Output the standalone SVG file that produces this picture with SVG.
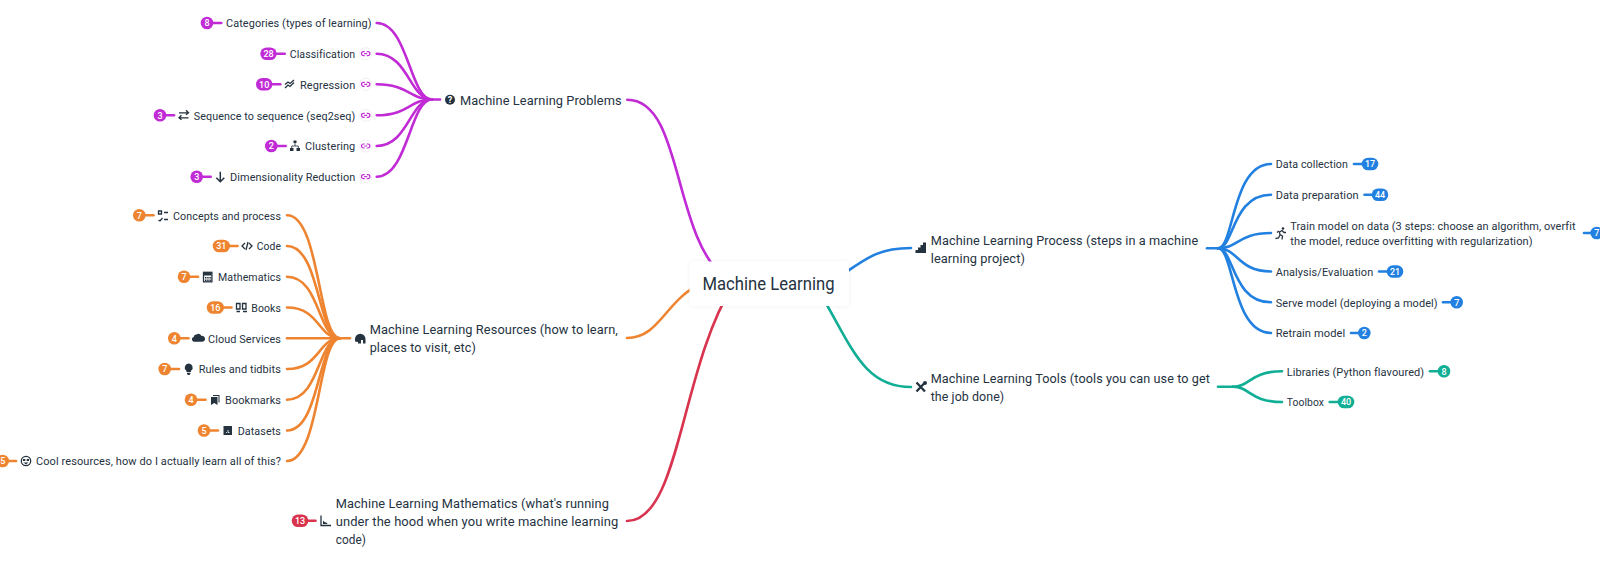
<svg xmlns="http://www.w3.org/2000/svg" width="1600" height="566" viewBox="0 0 1600 566">
<style>
text{font-family:"Roboto","Liberation Sans",sans-serif;fill:#25323f}
.c{font-size:11.6px;letter-spacing:.1px}.m{font-size:13.6px;letter-spacing:.1px}
.r{font-size:18px}
.b{font-size:9px;font-weight:500;fill:#fff;text-anchor:middle}
path.l,line.l{fill:none;stroke-width:2.6;stroke-linecap:round}
.pu{stroke:#c12bd6}.or{stroke:#ee8430}.re{stroke:#d9344f}.bl{stroke:#2280e0}.te{stroke:#0fae95}
.fpu{fill:#c12bd6}.for{fill:#ee8430}.fre{fill:#d9344f}.fbl{fill:#2280e0}.fte{fill:#0fae95}
.i{fill:#25323f}.s{fill:none;stroke:#25323f;stroke-width:1.3}
.lk{fill:#fff;stroke:#f0e8f2;stroke-width:.8}
.ls{fill:none;stroke:#c12bd6;stroke-width:1.2}
</style>
<defs>
<filter id="sh" x="-10%" y="-20%" width="120%" height="140%"><feDropShadow dx="0" dy="0" stdDeviation="2" flood-color="#000" flood-opacity=".06"/></filter>
<g id="link"><circle class="lk" r="6"/><path class="ls" d="M-1 -2H-2.2a2 2 0 0 0 0 4H-1M1 -2H2.2a2 2 0 0 1 0 4H1M-1.5 0H1.500"/></g>
</defs>
<g id="connectors">
<path class="l pu" d="M627.300 99.700C683 99.700 672 235 725 278"/>
<path class="l or" d="M627 338C660 338 665 300 702 283"/>
<path class="l re" d="M627 521C680 521 680 370 733 285"/>
<path class="l bl" d="M830 283C865 260 875 248 911 248"/>
<path class="l te" d="M815 285C850 340 860 387 911 387"/>
<g id="c-problems">
<path class="l pu" d="M440 99.500H428"/>
<path class="l pu" d="M376.700 23C408 23 410 99.500 432 99.500"/>
<path class="l pu" d="M376.700 53.700C408 53.700 410 99.500 432 99.500"/>
<path class="l pu" d="M376.700 84.300C408 84.300 410 99.500 432 99.500"/>
<path class="l pu" d="M376.700 115.300C408 115.300 410 99.500 432 99.500"/>
<path class="l pu" d="M376.700 146C408 146 410 99.500 432 99.500"/>
<path class="l pu" d="M376.700 176.700C408 176.700 410 99.500 432 99.500"/>
</g>
<g id="c-resources">
<path class="l or" d="M350 338.300H335"/>
<path class="l or" d="M287 215.300C320 215.300 318 338.300 340 338.300"/>
<path class="l or" d="M287 246C320 246 318 338.300 340 338.300"/>
<path class="l or" d="M287 276.800C320 276.800 318 338.300 340 338.300"/>
<path class="l or" d="M287 307.500C320 307.500 318 338.300 340 338.300"/>
<path class="l or" d="M287 338.300H340"/>
<path class="l or" d="M287 369C320 369 318 338.300 340 338.300"/>
<path class="l or" d="M287 399.700C320 399.700 318 338.300 340 338.300"/>
<path class="l or" d="M287 430.500C320 430.500 318 338.300 340 338.300"/>
<path class="l or" d="M287 461C320 461 318 338.300 340 338.300"/>
</g>
<g id="c-process">
<path class="l bl" d="M1207 248.300H1220"/>
<path class="l bl" d="M1218 248.300C1234 248.300 1232 164 1271 164"/>
<path class="l bl" d="M1218 248.300C1234 248.300 1232 194.700 1271 194.700"/>
<path class="l bl" d="M1218 248.300C1238 248.300 1238 233 1271 233"/>
<path class="l bl" d="M1218 248.300C1238 248.300 1238 271.500 1271 271.500"/>
<path class="l bl" d="M1218 248.300C1234 248.300 1232 302.300 1271 302.300"/>
<path class="l bl" d="M1218 248.300C1234 248.300 1232 333 1271 333"/>
</g>
<g id="c-tools">
<path class="l te" d="M1218 386.700H1233"/>
<path class="l te" d="M1233 386.700C1250 386.700 1250 371.300 1282 371.300"/>
<path class="l te" d="M1233 386.700C1250 386.700 1250 402 1282 402"/>
</g>
</g>

<g id="root"><rect x="689.500" y="261.500" width="159.500" height="44.500" rx="4" fill="#fff" filter="url(#sh)"/><text class="r" x="702.500" y="289.500" textLength="132" lengthAdjust="spacingAndGlyphs">Machine Learning</text></g>

<g id="n-problems"><circle class="i" cx="450" cy="99.700" r="5"/><text x="450" y="102.900" text-anchor="middle" style="font-size:9px;font-weight:700;fill:#fff">?</text><text class="m" x="460" y="104.700" textLength="161.700" lengthAdjust="spacingAndGlyphs">Machine Learning Problems</text></g>

<g id="n-categories"><circle class="fpu" cx="207" cy="23" r="6.300"/><text class="b" x="207" y="26.200">8</text><line class="l pu" x1="213" y1="23" x2="221.300" y2="23"/><text class="c" x="226" y="27.200" textLength="145.700" lengthAdjust="spacingAndGlyphs">Categories (types of learning)</text></g>
<g id="n-classification"><rect class="fpu" x="260.300" y="47.400" width="16.400" height="12.600" rx="6.300"/><text class="b" x="268.500" y="56.900">28</text><line class="l pu" x1="276.700" y1="53.700" x2="284.700" y2="53.700"/><text class="c" x="289.700" y="57.900" textLength="65.600" lengthAdjust="spacingAndGlyphs">Classification</text><use href="#link" x="365.700" y="53.700"/></g>
<g id="n-regression"><rect class="fpu" x="256" y="78" width="16.400" height="12.600" rx="6.300"/><text class="b" x="264.200" y="87.500">10</text><line class="l pu" x1="272.300" y1="84.300" x2="280.300" y2="84.300"/><path class="s" d="M285 88l3-3 2 1.500 4-4M285 84.500l3-2.500 2 1.500 4-3.500"/><text class="c" x="300" y="88.500" textLength="55.300" lengthAdjust="spacingAndGlyphs">Regression</text><use href="#link" x="365.700" y="84.300"/></g>
<g id="n-seq"><circle class="fpu" cx="160" cy="115.300" r="6.300"/><text class="b" x="160" y="118.500">3</text><line class="l pu" x1="166" y1="115.300" x2="174" y2="115.300"/><path class="s" d="M179 112.800h9.500M186 110.300l2.500 2.500-2.500 2M188.500 117.800h-9.500M181.500 115.300l-2.500 2.500 2.500 2"/><text class="c" x="193.700" y="119.500" textLength="161.600" lengthAdjust="spacingAndGlyphs">Sequence to sequence (seq2seq)</text><use href="#link" x="365.700" y="115.300"/></g>
<g id="n-clustering"><circle class="fpu" cx="271.300" cy="146" r="6.300"/><text class="b" x="271.300" y="149.200">2</text><line class="l pu" x1="277" y1="146" x2="285.700" y2="146"/><path class="i" d="M293.500 140.500h3v2.500h-3zM290 148h3.500v3H290zM296.500 148h3.500v3h-3.500z"/><path class="s" style="stroke-width:.8" d="M295 143v3M291.700 148v-2h6.600v2"/><text class="c" x="305" y="150.200" textLength="50.300" lengthAdjust="spacingAndGlyphs">Clustering</text><use href="#link" x="365.700" y="146"/></g>
<g id="n-dim"><circle class="fpu" cx="196.700" cy="176.700" r="6.300"/><text class="b" x="196.700" y="179.900">3</text><line class="l pu" x1="202.500" y1="176.700" x2="210.700" y2="176.700"/><path class="s" style="stroke-width:1.500" d="M220.300 171.700v10M216.300 177.700l4 4 4-4"/><text class="c" x="230" y="180.900" textLength="125.300" lengthAdjust="spacingAndGlyphs">Dimensionality Reduction</text><use href="#link" x="365.700" y="176.700"/></g>

<g id="n-resources"><path class="i" d="M355 339a5.200 5.200 0 1 1 10.500 0v4.500h-2.500v-3.500h-2v3.500h-3v-1.500l-3-.5z"/><text class="m" x="369.700" y="334" textLength="248.300" lengthAdjust="spacingAndGlyphs">Machine Learning Resources (how to learn,</text><text class="m" x="369.700" y="352" textLength="106.300" lengthAdjust="spacingAndGlyphs">places to visit, etc)</text></g>

<g id="n-concepts"><circle class="for" cx="139.300" cy="215.300" r="6.300"/><text class="b" x="139.300" y="218.500">7</text><line class="l or" x1="145" y1="215.300" x2="153.500" y2="215.300"/><path class="s" d="M158.500 211h3v3h-3zM164 212.500h4M158.500 220l1.500 1 2.500-3M164 219.500h4"/><text class="c" x="173" y="219.500" textLength="108" lengthAdjust="spacingAndGlyphs">Concepts and process</text></g>
<g id="n-code"><rect class="for" x="212.700" y="239.700" width="17.300" height="12.600" rx="6.300"/><text class="b" x="221.300" y="249.200">31</text><line class="l or" x1="230" y1="246" x2="237.500" y2="246"/><path class="s" d="M245 243l-3 3 3 3M249 243l3 3-3 3M248 242l-2 8"/><text class="c" x="256.700" y="250.200" textLength="24.300" lengthAdjust="spacingAndGlyphs">Code</text></g>
<g id="n-mathematics"><circle class="for" cx="184" cy="276.800" r="6.300"/><text class="b" x="184" y="280">7</text><line class="l or" x1="190" y1="276.800" x2="198" y2="276.800"/><rect class="s" x="203.500" y="272.300" width="8.400" height="9.500"/><path class="i" d="M204 272.500h7.500v3H204zM205 277h1.500v1.500H205zM207.200 277h1.500v1.500h-1.500zM209.400 277h1.500v1.500h-1.500zM205 279.500h1.500v1.500H205zM207.200 279.500h1.500v1.500h-1.500zM209.400 279.500h1.500v1.500h-1.500z"/><text class="c" x="218" y="281" textLength="63" lengthAdjust="spacingAndGlyphs">Mathematics</text></g>
<g id="n-books"><rect class="for" x="206.700" y="301.200" width="17.300" height="12.600" rx="6.300"/><text class="b" x="215.300" y="310.700">16</text><line class="l or" x1="224" y1="307.500" x2="231.500" y2="307.500"/><path class="s" d="M236.500 303.500h3.500v5.500h-3.500zM242.500 303.500h3.500v5.500h-3.500zM236.500 311.500h3.500M243 311.500h4"/><text class="c" x="251.300" y="311.700" textLength="29.700" lengthAdjust="spacingAndGlyphs">Books</text></g>
<g id="n-cloud"><circle class="for" cx="174.300" cy="338.300" r="6.300"/><text class="b" x="174.300" y="341.500">4</text><line class="l or" x1="180" y1="338.300" x2="188.500" y2="338.300"/><path class="i" d="M194 341.800a2.400 2.400 0 0 1-.3-4.700 2.600 2.600 0 0 1 2.800-2.500 3.200 3.200 0 0 1 5 1.300 2.900 2.900 0 0 1 1 5.900z"/><text class="c" x="208" y="342.500" textLength="73" lengthAdjust="spacingAndGlyphs">Cloud Services</text></g>
<g id="n-rules"><circle class="for" cx="164.700" cy="369" r="6.300"/><text class="b" x="164.700" y="372.200">7</text><line class="l or" x1="170.500" y1="369" x2="179" y2="369"/><path class="i" d="M188.700 363.500a4 4 0 0 1 2.500 7.100l-.4 1.400h-4.200l-.4-1.400a4 4 0 0 1 2.500-7.100zM187 372.800h3.400v1.200l-1 1h-1.400l-1-1z"/><text class="c" x="198.700" y="373.200" textLength="82.300" lengthAdjust="spacingAndGlyphs">Rules and tidbits</text></g>
<g id="n-bookmarks"><circle class="for" cx="191" cy="399.700" r="6.300"/><text class="b" x="191" y="402.900">4</text><line class="l or" x1="197" y1="399.700" x2="205.500" y2="399.700"/><path class="i" d="M211 397h6.500v8l-3.200-2-3.300 2zM213 395h6.500v7.500h-1v-6.500H213z"/><text class="c" x="225" y="403.900" textLength="56" lengthAdjust="spacingAndGlyphs">Bookmarks</text></g>
<g id="n-datasets"><circle class="for" cx="204" cy="430.500" r="6.300"/><text class="b" x="204" y="433.700">5</text><line class="l or" x1="210" y1="430.500" x2="218" y2="430.500"/><path class="i" d="M223.500 426h8.500v9h-8.500z"/><path d="M226 432.500h1M228 430v2.500h1.500" fill="none" stroke="#fff" stroke-width=".8"/><text class="c" x="237.700" y="434.700" textLength="43.300" lengthAdjust="spacingAndGlyphs">Datasets</text></g>
<g id="n-cool"><circle class="for" cx="2.700" cy="461" r="6.300"/><text class="b" x="2.700" y="464.200">5</text><line class="l or" x1="8" y1="461" x2="16" y2="461"/><circle class="s" cx="26" cy="461" r="4.700"/><path class="i" d="M23 459h2.300v2H23zM26.700 459H29v2h-2.300zM23.500 462.500h5l-2.500 2z"/><text class="c" x="36" y="465.200" textLength="245" lengthAdjust="spacingAndGlyphs">Cool resources, how do I actually learn all of this?</text></g>

<g id="n-mathematics-main"><rect class="fre" x="291.700" y="514.400" width="16.600" height="12.600" rx="6.300"/><text class="b" x="300" y="523.900">13</text><line class="l re" x1="308" y1="520.700" x2="315.500" y2="520.700"/><path class="s" d="M321 515.500v10h10"/><path class="i" d="M323 524v-3.500l1.500 1.500 2.500 1 .5 1z"/><text class="m" x="335.700" y="508" textLength="273.300" lengthAdjust="spacingAndGlyphs">Machine Learning Mathematics (what's running</text><text class="m" x="335.700" y="526" textLength="282.600" lengthAdjust="spacingAndGlyphs">under the hood when you write machine learning</text><text class="m" x="335.700" y="544" textLength="30.300" lengthAdjust="spacingAndGlyphs">code)</text></g>

<g id="n-process"><path class="i" d="M915.500 253h10.500v-10.500h-3v2.500h-2.500v2.500H918v2.500h-2.500z"/><text class="m" x="930.700" y="245" textLength="267.600" lengthAdjust="spacingAndGlyphs">Machine Learning Process (steps in a machine</text><text class="m" x="930.700" y="263" textLength="94.300" lengthAdjust="spacingAndGlyphs">learning project)</text></g>
<g id="n-collection"><text class="c" x="1275.700" y="168.200" textLength="72.300" lengthAdjust="spacingAndGlyphs">Data collection</text><line class="l bl" x1="1354" y1="164" x2="1362" y2="164"/><rect class="fbl" x="1361.700" y="157.700" width="16.600" height="12.600" rx="6.300"/><text class="b" x="1370" y="167.200">17</text></g>
<g id="n-preparation"><text class="c" x="1275.700" y="198.900" textLength="83" lengthAdjust="spacingAndGlyphs">Data preparation</text><line class="l bl" x1="1364.500" y1="194.700" x2="1372" y2="194.700"/><rect class="fbl" x="1371.700" y="188.400" width="16.600" height="12.600" rx="6.300"/><text class="b" x="1380" y="197.900">44</text></g>
<g id="n-train"><circle class="i" cx="1283" cy="228.500" r="1.300"/><path class="s" d="M1275.500 238.500l3-.5 1.500-3-.5-3 2.500-1.500 2 2h2M1280 234.500l2.500 1.500-.5 3.500M1279 231l-2 1.500"/><text class="c" x="1290.300" y="229.800" textLength="285.400" lengthAdjust="spacingAndGlyphs">Train model on data (3 steps: choose an algorithm, overfit</text><text class="c" x="1290.300" y="245.200" textLength="242.400" lengthAdjust="spacingAndGlyphs">the model, reduce overfitting with regularization)</text><line class="l bl" x1="1584" y1="233" x2="1591.700" y2="233"/><circle class="fbl" cx="1596.700" cy="233" r="6.300"/><text class="b" x="1596.700" y="236.200">7</text></g>
<g id="n-analysis"><text class="c" x="1275.700" y="275.700" textLength="97.600" lengthAdjust="spacingAndGlyphs">Analysis/Evaluation</text><line class="l bl" x1="1379" y1="271.500" x2="1387" y2="271.500"/><rect class="fbl" x="1386.700" y="265.200" width="16.600" height="12.600" rx="6.300"/><text class="b" x="1395" y="274.700">21</text></g>
<g id="n-serve"><text class="c" x="1275.700" y="306.500" textLength="162" lengthAdjust="spacingAndGlyphs">Serve model (deploying a model)</text><line class="l bl" x1="1443" y1="302.300" x2="1451" y2="302.300"/><circle class="fbl" cx="1456.700" cy="302.300" r="6.300"/><text class="b" x="1456.700" y="305.500">7</text></g>
<g id="n-retrain"><text class="c" x="1275.700" y="337.200" textLength="69.600" lengthAdjust="spacingAndGlyphs">Retrain model</text><line class="l bl" x1="1351" y1="333" x2="1358.500" y2="333"/><circle class="fbl" cx="1364.300" cy="333" r="6.300"/><text class="b" x="1364.300" y="336.200">2</text></g>

<g id="n-tools"><path d="M916.500 382.500l8.500 9M925 382.500l-8.500 9" fill="none" stroke="#25323f" stroke-width="2.300"/><circle class="i" cx="925" cy="383" r="2"/><text class="m" x="930.700" y="383" textLength="279.300" lengthAdjust="spacingAndGlyphs">Machine Learning Tools (tools you can use to get</text><text class="m" x="930.700" y="401" textLength="73.600" lengthAdjust="spacingAndGlyphs">the job done)</text></g>
<g id="n-libraries"><text class="c" x="1286.700" y="375.500" textLength="137.600" lengthAdjust="spacingAndGlyphs">Libraries (Python flavoured)</text><line class="l te" x1="1430" y1="371.300" x2="1438" y2="371.300"/><circle class="fte" cx="1444" cy="371.300" r="6.300"/><text class="b" x="1444" y="374.500">8</text></g>
<g id="n-toolbox"><text class="c" x="1286.700" y="406.200" textLength="37.300" lengthAdjust="spacingAndGlyphs">Toolbox</text><line class="l te" x1="1329.700" y1="402" x2="1338" y2="402"/><rect class="fte" x="1337.700" y="395.700" width="16.600" height="12.600" rx="6.300"/><text class="b" x="1346" y="405.200">40</text></g>
</svg>
